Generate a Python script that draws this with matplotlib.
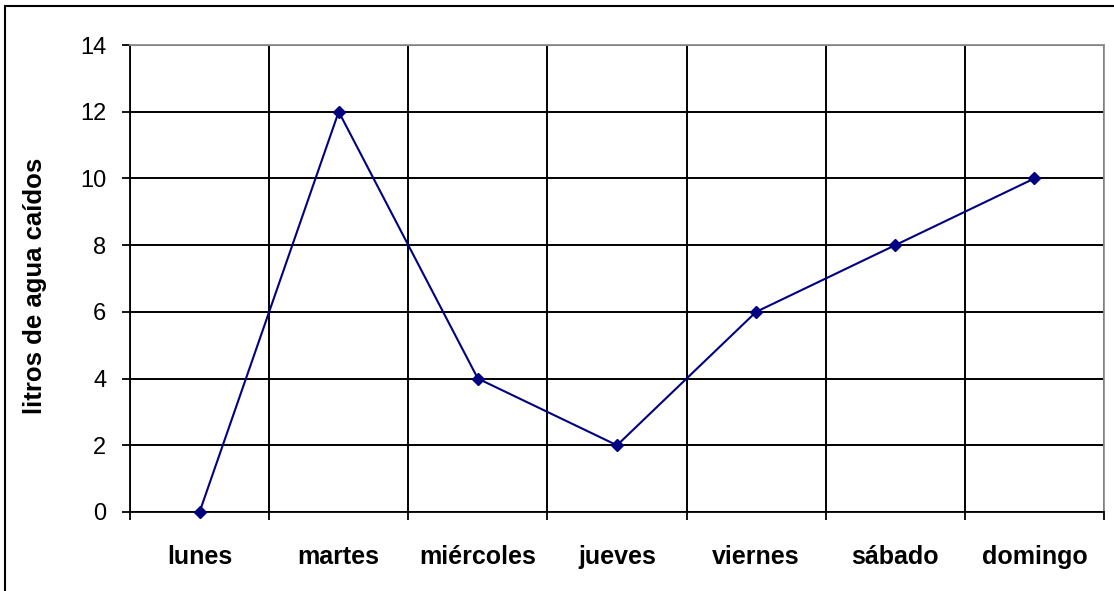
import matplotlib
matplotlib.use("Agg")
import matplotlib.pyplot as plt
from matplotlib.patches import Rectangle
import numpy as np

plt.rcParams['font.family'] = ['Liberation Sans', 'DejaVu Sans']

dias = ["lunes", "martes", "miércoles", "jueves", "viernes", "sábado", "domingo"]
litros = [0, 12, 4, 2, 6, 8, 10]
yticks = [0, 2, 4, 6, 8, 10, 12, 14]

fig = plt.figure(figsize=(11.14, 5.91), dpi=100)
ax = fig.add_axes([130/1114, 1-512/591, (1104-130)/1114, (512-45)/591])

x = np.arange(len(dias))
ax.plot(x, litros, color="#000080", lw=1.5, marker="D", ms=6.5, zorder=5, clip_on=False)

ax.set_xlim(-0.5, len(dias)-0.5)
ax.set_ylim(0, 14)
ax.set_xticks(x)
ax.set_xticklabels(dias, fontsize=18, fontweight="bold")
ax.set_xticks(np.arange(-0.5, len(dias), 1.0), minor=True)
ax.tick_params(axis="x", which="major", length=0, pad=24)
ax.tick_params(axis="x", which="minor", length=6, width=1.3, direction="out", color="black")
ax.set_yticks(yticks)
ax.set_yticklabels([str(v) for v in yticks], fontsize=17)
ax.tick_params(axis="y", length=6, width=1.3, direction="out", pad=11)

ax.grid(True, axis="x", which="minor", color="black", lw=1.4)
ax.grid(True, axis="y", which="major", color="black", lw=1.4)
ax.set_axisbelow(True)

ax.spines["left"].set_color("black")
ax.spines["bottom"].set_color("black")
ax.spines["top"].set_color("#909090")
ax.spines["right"].set_color("#909090")
for s in ax.spines.values():
    s.set_linewidth(1.3)

ax.set_ylabel("litros de agua caídos", fontsize=18.5, fontweight="bold")
ax.yaxis.set_label_coords((47-130)/974, 1-(286-45)/467)

fig.patches.append(Rectangle((5/1114, -0.1), 1.2, 1 - 6/591 + 0.1, transform=fig.transFigure,
                             fill=False, edgecolor="black", lw=1.5))

fig.savefig("out.png", dpi=100)
